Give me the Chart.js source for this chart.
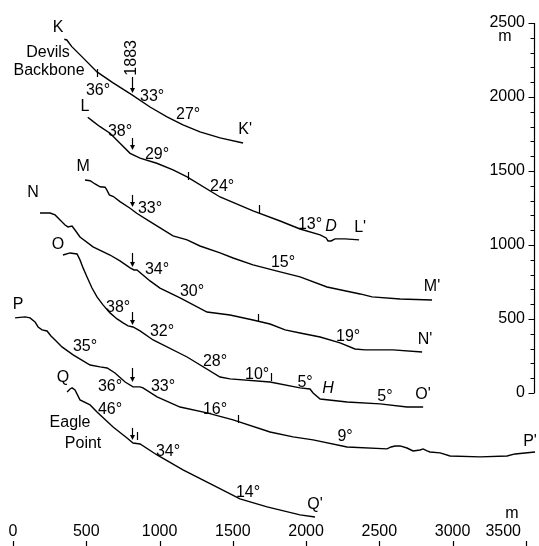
<!DOCTYPE html>
<html>
<head>
<meta charset="utf-8">
<script src="https://cdn.jsdelivr.net/npm/chart.js@4.4.1/dist/chart.umd.min.js"></script>
<style>
  html, body { margin: 0; padding: 0; background: #fff; }
  #wrap { width: 539px; height: 546px; position: relative; }
</style>
</head>
<body>
<div id="wrap"><canvas id="chart"></canvas></div>
<script>
// profile traces, distance (m) vs plotted height (m, profiles are stacked)
const kX = [350, 367, 401, 478, 573, 683, 812, 935, 1051, 1160, 1276, 1413, 1570];
const kY = [2390, 2385, 2340, 2264, 2169, 2095, 2014, 1932, 1865, 1811, 1764, 1723, 1689];

const lX = [510, 548, 594, 662, 730, 799, 867, 981, 1092, 1188, 1413, 1638, 1823, 1959, 2096, 2137, 2150, 2171, 2198, 2266, 2362];
const lY = [1863, 1833, 1799, 1755, 1687, 1619, 1586, 1552, 1507, 1460, 1324, 1230, 1162, 1108, 1068, 1047, 1027, 1027, 1041, 1041, 1034];

const mX = [491, 526, 560, 594, 628, 640, 657, 685, 730, 799, 844, 935, 1092, 1188, 1276, 1413, 1502, 1638, 1823, 1959, 2143, 2369, 2451, 2642, 2860];
const mY = [1439, 1434, 1412, 1393, 1390, 1372, 1338, 1327, 1293, 1248, 1214, 1158, 1061, 1034, 993, 946, 912, 865, 818, 784, 716, 669, 649, 635, 628];

const nX = [184, 253, 287, 321, 355, 375, 403, 423, 457, 546, 662, 730, 799, 826, 846, 935, 1003, 1140, 1324, 1481, 1638, 1754, 1857, 1959, 2096, 2232, 2334, 2403, 2594, 2792];
const nY = [1216, 1216, 1203, 1169, 1135, 1122, 1128, 1101, 1054, 987, 932, 892, 845, 831, 831, 757, 709, 642, 547, 527, 493, 466, 426, 405, 378, 338, 297, 291, 291, 277];

const oX = [341, 389, 437, 457, 478, 505, 539, 573, 614, 662, 710, 751, 785, 819, 867, 956, 1188, 1413, 1481, 1754, 1959, 2027, 2048, 2096, 2280, 2505, 2689, 2799];
const oY = [932, 946, 939, 899, 845, 784, 709, 649, 595, 541, 500, 473, 453, 446, 419, 358, 243, 108, 95, 74, 34, 27, 0, -41, -61, -74, -95, -95];

const pX = [14, 82, 116, 150, 171, 198, 232, 259, 287, 334, 410, 526, 594, 642, 696, 765, 819, 867, 887, 983, 1140, 1324, 1502, 1754, 1911, 2048, 2280, 2553, 2580, 2608, 2642, 2689, 2730, 2778, 2799, 2826, 2846, 2915, 2983, 3188, 3372, 3427, 3563];
const pY = [507, 514, 507, 480, 446, 426, 419, 385, 358, 311, 257, 189, 176, 169, 135, 74, 41, 41, 34, -27, -95, -135, -182, -264, -297, -317, -365, -378, -365, -358, -358, -372, -392, -385, -378, -392, -399, -405, -426, -432, -426, -412, -399];

const qX = [369, 389, 403, 423, 457, 526, 573, 683, 778, 819, 867, 983, 1160, 1365, 1549, 1734, 1959, 2061];
const qY = [7, 27, 34, 20, -47, -81, -128, -230, -304, -338, -345, -419, -520, -622, -716, -770, -824, -838];

// axis ticks
const xTicks = [0, 500, 1000, 1500, 2000, 2500, 3000, 3500];
const yTicks = [0, 500, 1000, 1500, 2000, 2500];
const yMinorStep = 100;

// annotations: text, x, y (data units)
const labelText = ['K', 'Devils', 'Backbone', '36°', '33°', '27°', "K'",
  'L', '38°', '29°', '24°', '13°', "L'",
  'M', '33°', '15°', "M'",
  'N', '34°', '30°', '19°', "N'",
  'O', '38°', '32°', '28°', '10°', '5°', '5°', "O'",
  'P', '35°', '36°', '33°', '16°', '9°', "P'",
  'Q', '46°', 'Eagle', 'Point', '34°', '14°', "Q'"];
const labelX = [307, 239, 246, 580, 949, 1195, 1584,
  491, 730, 983, 1427, 2027, 2369,
  478, 935, 1843, 2860,
  137, 983, 1222, 2287, 2812,
  307, 717, 1017, 1379, 1666, 1993, 2539, 2799,
  34, 491, 662, 1024, 1379, 2266, 3529,
  341, 662, 389, 478, 1058, 1604, 2061];
const labelY = [2466, 2297, 2176, 2041, 2000, 1878, 1777,
  1932, 1764, 1608, 1392, 1135, 1115,
  1527, 1243, 878, 716,
  1351, 831, 682, 378, 358,
  1000, 574, 412, 209, 122, 68, -27, -14,
  595, 311, 41, 41, -115, -297, -331,
  101, -115, -203, -345, -399, -676, -757];
const italicText = ['D', 'H'];
const italicX = [2171, 2150];
const italicY = [1122, 27];

// 1883 marker: down arrows on each profile, tip heights
const arrowX = 810;
const arrowTipY = [2027, 1642, 1257, 851, 459, 74, -318];
const arrowTopY = [2135, 1723, 1338, 946, 547, 169, -236];

// small vertical ticks on profiles
const markX = [573, 1195, 1679, 1672, 1761, 1536, 846];
const markY = [2135, 1439, 1216, 480, 81, -203, -318];

const FONT = '"Liberation Sans", Arial, sans-serif';

function series(xs, ys) {
  return xs.map((x, i) => ({ x: x, y: ys[i] }));
}

const profiles = [[kX, kY], [lX, lY], [mX, mY], [nX, nY], [oX, oY], [pX, pY], [qX, qY]];

const decor = {
  id: 'decor',
  afterDraw(chart) {
    const ctx = chart.ctx;
    const xs = chart.scales.x, ys = chart.scales.y;
    ctx.save();
    ctx.strokeStyle = '#000';
    ctx.fillStyle = '#000';
    ctx.lineWidth = 1.2;

    // right elevation axis
    const ax = 534.5;
    ctx.beginPath();
    ctx.moveTo(ax, ys.getPixelForValue(0));
    ctx.lineTo(ax, ys.getPixelForValue(2500));
    for (let v = 0; v <= 2500; v += yMinorStep) {
      const py = Math.round(ys.getPixelForValue(v)) + 0.5;
      ctx.moveTo(ax, py);
      ctx.lineTo(ax - (v % 500 === 0 ? 6 : 4), py);
    }
    ctx.stroke();
    ctx.font = '16px ' + FONT;
    ctx.textAlign = 'right';
    ctx.textBaseline = 'middle';
    yTicks.forEach(v => ctx.fillText(String(v), 525, ys.getPixelForValue(v)));
    ctx.textAlign = 'center';
    ctx.fillText('m', 505, ys.getPixelForValue(2500) + 14);

    // bottom distance axis
    ctx.beginPath();
    xTicks.forEach(v => {
      const px = Math.round(xs.getPixelForValue(v)) + 0.5;
      ctx.moveTo(px, 541);
      ctx.lineTo(px, 546);
    });
    ctx.stroke();
    xTicks.forEach(v => {
      const px = xs.getPixelForValue(v);
      const w = ctx.measureText(String(v)).width;
      ctx.fillText(String(v), Math.min(px, 521 - w / 2), 532);
    });
    ctx.fillText('m', 512, 514);

    // labels
    labelText.forEach((t, i) => {
      ctx.fillText(t, xs.getPixelForValue(labelX[i]), ys.getPixelForValue(labelY[i]));
    });
    ctx.font = 'italic 16px ' + FONT;
    italicText.forEach((t, i) => {
      ctx.fillText(t, xs.getPixelForValue(italicX[i]), ys.getPixelForValue(italicY[i]));
    });

    // rotated 1883
    ctx.font = '16px ' + FONT;
    ctx.save();
    ctx.translate(xs.getPixelForValue(812), ys.getPixelForValue(2264));
    ctx.rotate(-Math.PI / 2);
    ctx.fillText('1883', 0, 0);
    ctx.restore();

    // arrows
    const apx = Math.round(xs.getPixelForValue(arrowX)) + 0.5;
    arrowTipY.forEach((tip, i) => {
      const ty = ys.getPixelForValue(tip);
      const top = ys.getPixelForValue(arrowTopY[i]);
      ctx.beginPath();
      ctx.moveTo(apx, top);
      ctx.lineTo(apx, ty - 3);
      ctx.stroke();
      ctx.beginPath();
      ctx.moveTo(apx - 2.5, ty - 5);
      ctx.lineTo(apx + 2.5, ty - 5);
      ctx.lineTo(apx, ty);
      ctx.closePath();
      ctx.fill();
    });

    // profile ticks
    ctx.beginPath();
    markX.forEach((x, i) => {
      const px = Math.round(xs.getPixelForValue(x)) + 0.5;
      const py = ys.getPixelForValue(markY[i]);
      ctx.moveTo(px, py);
      ctx.lineTo(px, py - 8);
    });
    ctx.stroke();
    ctx.restore();
  }
};

new Chart(document.getElementById('chart'), {
  type: 'scatter',
  data: {
    datasets: profiles.map(p => ({
      data: series(p[0], p[1]),
      showLine: true,
      borderColor: '#000',
      borderWidth: 1.4,
      pointRadius: 0,
      tension: 0,
      fill: false
    }))
  },
  options: {
    responsive: true,
    maintainAspectRatio: false,
    animation: false,
    layout: { padding: 0 },
    plugins: { legend: { display: false }, tooltip: { enabled: false } },
    scales: {
      x: { type: 'linear', min: -89, max: 3590, display: false },
      y: { type: 'linear', min: -1034, max: 2655, display: false }
    }
  },
  plugins: [decor]
});
</script>
</body>
</html>
